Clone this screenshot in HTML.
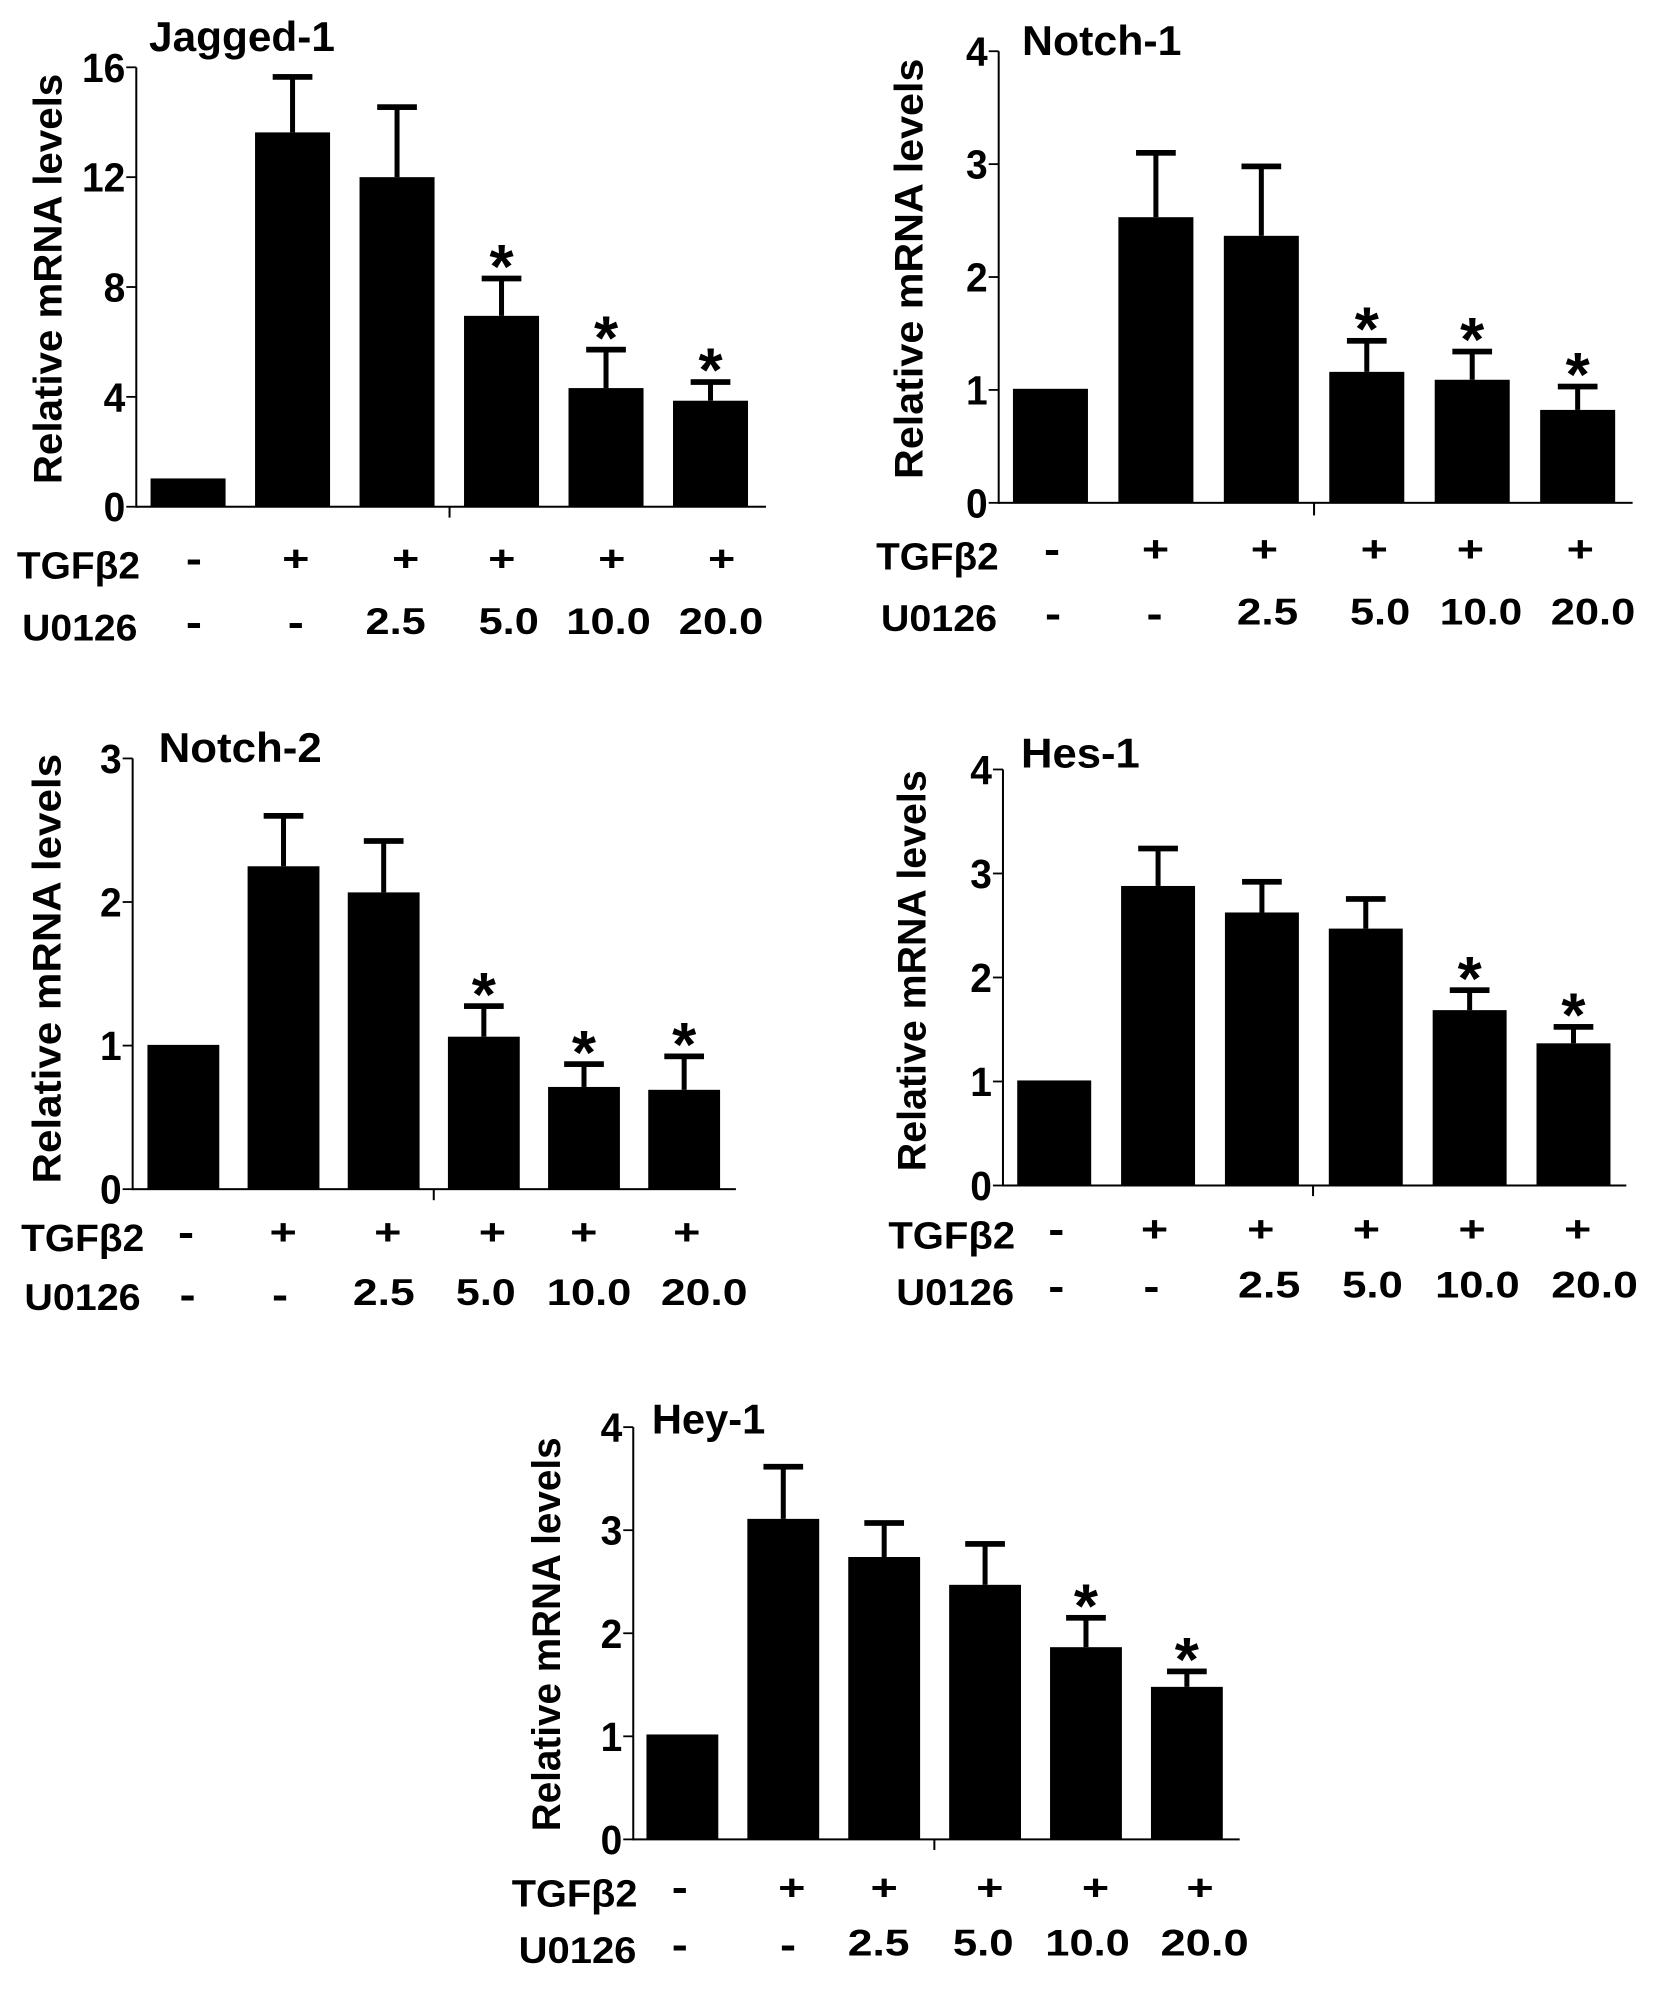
<!DOCTYPE html>
<html>
<head>
<meta charset="utf-8">
<title>Relative mRNA levels</title>
<style>
html,body{margin:0;padding:0;background:#fff;width:1654px;height:2009px;overflow:hidden}
svg{display:block}
text{font-family:"Liberation Sans",sans-serif;font-weight:bold;fill:#000}
</style>
</head>
<body>
<svg id="figure" xmlns="http://www.w3.org/2000/svg" width="1654" height="2009" viewBox="0 0 1654 2009">
  <rect width="1654" height="2009" fill="#fff"/>
  <g id="p-jagged"></g>
  <g id="p-notch1"></g>
  <g id="p-notch2"></g>
  <g id="p-hes"></g>
  <g id="p-hey"></g>
</svg>
<script>
// ---- chart data ----
const tgfLabels = ['-', '+', '+', '+', '+', '+'];
const u0126Labels = ['-', '-', '2.5', '5.0', '10.0', '20.0'];

const jaggedMeans = [1.03, 13.63, 12.0, 6.95, 4.32, 3.86];
const jaggedErrorTops = [null, 15.65, 14.55, 8.31, 5.72, 4.54];
const jaggedStars = [false, false, false, true, true, true];
const jaggedTicks = [0, 4, 8, 12, 16];

const notch1Means = [1.01, 2.53, 2.365, 1.16, 1.09, 0.823];
const notch1ErrorTops = [null, 3.1, 2.98, 1.435, 1.34, 1.03];
const notch1Stars = [false, false, false, true, true, true];
const notch1Ticks = [0, 1, 2, 3, 4];

const notch2Means = [1.005, 2.249, 2.067, 1.062, 0.712, 0.692];
const notch2ErrorTops = [null, 2.6, 2.425, 1.275, 0.871, 0.925];
const notch2Stars = [false, false, false, true, true, true];
const notch2Ticks = [0, 1, 2, 3];

const hesMeans = [1.01, 2.88, 2.625, 2.47, 1.686, 1.367];
const hesErrorTops = [null, 3.24, 2.92, 2.755, 1.878, 1.525];
const hesStars = [false, false, false, false, true, true];
const hesTicks = [0, 1, 2, 3, 4];

const heyMeans = [1.018, 3.11, 2.74, 2.47, 1.865, 1.48];
const heyErrorTops = [null, 3.616, 3.07, 2.867, 2.15, 1.63];
const heyStars = [false, false, false, false, true, true];
const heyTicks = [0, 1, 2, 3, 4];

// ---- layout (measured space: ZX horizontally, per-panel sy vertically) ----
const ZX = 1.893;
const SVGNS = 'http://www.w3.org/2000/svg';

function make(tag, parent) {
  const n = document.createElementNS(SVGNS, tag);
  parent.appendChild(n);
  return n;
}
function fitText(parent, str, x, y, length, size) {
  const t = make('text', parent);
  t.setAttribute('x', x);
  t.setAttribute('y', y);
  t.setAttribute('font-size', size);
  t.setAttribute('textLength', length);
  t.setAttribute('lengthAdjust', 'spacingAndGlyphs');
  t.textContent = str;
  return t;
}
function stretchText(parent, str, x, y, size, hs, anchor) {
  const t = make('text', parent);
  t.setAttribute('transform', 'translate(' + x + ' ' + y + ') scale(' + hs + ' 1)');
  t.setAttribute('font-size', size);
  t.setAttribute('text-anchor', anchor);
  t.textContent = str;
  return t;
}
function box(parent, x, y, w, h) {
  const r = make('rect', parent);
  r.setAttribute('x', x);
  r.setAttribute('y', y);
  r.setAttribute('width', w);
  r.setAttribute('height', h);
  r.setAttribute('fill', '#000');
  return r;
}

function drawPanel(cfg, means, errorTops, stars, ticks) {
  const root = document.getElementById(cfg.id);
  const px = function (v) { return cfg.ox + v / ZX; };
  const py = function (v) { return cfg.oy + v / cfg.sy; };
  const yScale = function (val) { return py(cfg.y0 - (val / cfg.ymax) * (cfg.y0 - cfg.top)); };
  const xBand = function (i) { return px(cfg.barLeft + i * cfg.pitch); };
  const bandW = cfg.barW / ZX;
  const capW = 39.7;
  const capH = 5.7;
  const stemW = 5;

  // bars, error bars, significance stars
  means.forEach(function (m, i) {
    const cx = xBand(i) + bandW / 2;
    const bar = box(root, xBand(i), yScale(m), bandW, yScale(0) - yScale(m));
    
    
    if (errorTops[i] !== null) {
      const stem = box(root, cx - stemW / 2, yScale(errorTops[i]), stemW, yScale(m) - yScale(errorTops[i]));
      
      
      const cap = box(root, cx - capW / 2, yScale(errorTops[i]) - capH / 2, capW, capH);
      
      
    }
    if (stars[i]) {
      const size = 62;
      const base = yScale(errorTops[i]) - 23.5 + size * 0.535;
      const star = stretchText(root, '*', cx, base, size, 1, 'middle');
      
      
    }
  });

  // axes
  const axisLeft = px(cfg.axisX);
  const yAxis = box(root, axisLeft - 1, yScale(ticks[ticks.length - 1]), 2, yScale(0) - yScale(ticks[ticks.length - 1]) + 1);
  
  
  const xAxis = box(root, axisLeft, yScale(0) - 1, px(cfg.axisEnd) - axisLeft, 2);
  
  
  const xTick = box(root, px(cfg.tickX) - 1, yScale(0), 2, py(cfg.tickBottom) - yScale(0));
  
  

  ticks.forEach(function (v) {
    const mark = box(root, axisLeft - 10, yScale(v) - 0.9, 10, 1.8);
    
    
    const lab = stretchText(root, String(v), axisLeft - 11, yScale(v) + 14.5, 41, 0.95, 'end');
    
    
  });

  // titles
  const title = fitText(root, cfg.title, px(cfg.titleL) - 1.5, py(cfg.titleB), (cfg.titleR - cfg.titleL) / ZX + 1, 42);
  
  

  const yLen = py(cfg.yTitleBottom) - py(cfg.yTitleTop);
  const yTitle = fitText(root, 'Relative mRNA levels', 0, 0, yLen, 40);
  yTitle.setAttribute('transform', 'translate(' + px(cfg.yTitleX) + ' ' + py(cfg.yTitleBottom) + ') rotate(-90)');
  
  

  // treatment rows
  const tgfName = fitText(root, 'TGF\u03B22', px(cfg.tgfL), py(cfg.tgfB), (cfg.tgfR - cfg.tgfL) / ZX, 38);
  
  
  const uName = fitText(root, 'U0126', px(cfg.uL), py(cfg.uB), (cfg.uR - cfg.uL) / ZX, 37);
  
  

  tgfLabels.forEach(function (s, i) {
    const isPlus = s === '+';
    const base = isPlus ? py(cfg.plusY) + 36 * 0.34 : py(cfg.minusY) + 42 * 0.27;
    const t = stretchText(root, s, px(cfg.tgfX[i]), base, isPlus ? 36 : 42, isPlus ? 1.3 : 1.15, 'middle');
    
    
  });
  u0126Labels.forEach(function (s, i) {
    if (s === '-') {
      const t = stretchText(root, s, px(cfg.uX[i]), py(cfg.minus2Y) + 42 * 0.27, 42, 1.15, 'middle');
      
      
    } else {
      const span = cfg.uSpan[i];
      const t = fitText(root, s, px(span[0]), py(cfg.numB), (span[1] - span[0]) / ZX, 37);
      
      
    }
  });
}

drawPanel({
  id: 'p-jagged', title: 'Jagged-1', ox: 0, oy: 0, sy: 2.303, ymax: 16,
  axisX: 258, axisEnd: 1450, top: 155, y0: 1167, tickX: 851, tickBottom: 1192,
  barLeft: 285, pitch: 197.8, barW: 142,
  titleL: 285, titleR: 635, titleB: 118,
  yTitleX: 116, yTitleTop: 170, yTitleBottom: 1115,
  tgfL: 32, tgfR: 265, tgfB: 1332, uL: 42, uR: 260, uB: 1475,
  plusY: 1287, minusY: 1293, minus2Y: 1440, numB: 1460,
  tgfX: [367, 560, 768, 950, 1158, 1366], uX: [367, 560],
  uSpan: [null, null, [692, 806], [906, 1020], [1072, 1232], [1285, 1445]]
}, jaggedMeans, jaggedErrorTops, jaggedStars, jaggedTicks);

drawPanel({
  id: 'p-notch1', title: 'Notch-1', ox: 827, oy: 0, sy: 2.303, ymax: 4,
  axisX: 325, axisEnd: 1525, top: 118, y0: 1158, tickX: 922, tickBottom: 1187,
  barLeft: 352, pitch: 199.6, barW: 142,
  titleL: 372, titleR: 672, titleB: 127,
  yTitleX: 181, yTitleTop: 135, yTitleBottom: 1103,
  tgfL: 93, tgfR: 325, tgfB: 1312, uL: 102, uR: 322, uB: 1453,
  plusY: 1265, minusY: 1272, minus2Y: 1420, numB: 1438,
  tgfX: [426, 622, 828, 1036, 1218, 1426], uX: [428, 620],
  uSpan: [null, null, [776, 892], [990, 1104], [1160, 1316], [1370, 1530]]
}, notch1Means, notch1ErrorTops, notch1Stars, notch1Ticks);

drawPanel({
  id: 'p-notch2', title: 'Notch-2', ox: -1, oy: 700, sy: 2.447, ymax: 3,
  axisX: 253, axisEnd: 1395, top: 143, y0: 1197, tickX: 823, tickBottom: 1224,
  barLeft: 281, pitch: 189.6, barW: 136,
  titleL: 305, titleR: 612, titleB: 152,
  yTitleX: 116, yTitleTop: 132, yTitleBottom: 1183,
  tgfL: 42, tgfR: 275, tgfB: 1348, uL: 48, uR: 268, uB: 1493,
  plusY: 1302, minusY: 1310, minus2Y: 1462, numB: 1480,
  tgfX: [354, 538, 736, 934, 1107, 1302], uX: [357, 532],
  uSpan: [null, null, [670, 787], [865, 978], [1037, 1197], [1253, 1417]]
}, notch2Means, notch2ErrorTops, notch2Stars, notch2Ticks);

drawPanel({
  id: 'p-hes', title: 'Hes-1', ox: 826, oy: 700, sy: 2.447, ymax: 4,
  axisX: 335, axisEnd: 1515, top: 170, y0: 1188, tickX: 922, tickBottom: 1214,
  barLeft: 362, pitch: 196.6, barW: 140,
  titleL: 372, titleR: 595, titleB: 165,
  yTitleX: 188, yTitleTop: 172, yTitleBottom: 1153,
  tgfL: 118, tgfR: 358, tgfB: 1342, uL: 133, uR: 356, uB: 1480,
  plusY: 1295, minusY: 1302, minus2Y: 1442, numB: 1462,
  tgfX: [436, 622, 823, 1023, 1223, 1423], uX: [436, 616],
  uSpan: [null, null, [780, 898], [977, 1092], [1153, 1313], [1373, 1537]]
}, hesMeans, hesErrorTops, hesStars, hesTicks);

drawPanel({
  id: 'p-hey', title: 'Hey-1', ox: 479, oy: 1370, sy: 2.45, ymax: 4,
  axisX: 292, axisEnd: 1440, top: 140, y0: 1150, tickX: 862, tickBottom: 1176,
  barLeft: 317, pitch: 191, barW: 136,
  titleL: 330, titleR: 543, titleB: 155,
  yTitleX: 153, yTitleTop: 165, yTitleBottom: 1130,
  tgfL: 62, tgfR: 300, tgfB: 1315, uL: 75, uR: 298, uB: 1453,
  plusY: 1268, minusY: 1275, minus2Y: 1415, numB: 1435,
  tgfX: [380, 592, 767, 967, 1167, 1365], uX: [380, 585],
  uSpan: [null, null, [698, 815], [897, 1012], [1072, 1232], [1290, 1457]]
}, heyMeans, heyErrorTops, heyStars, heyTicks);
</script>
</body>
</html>
